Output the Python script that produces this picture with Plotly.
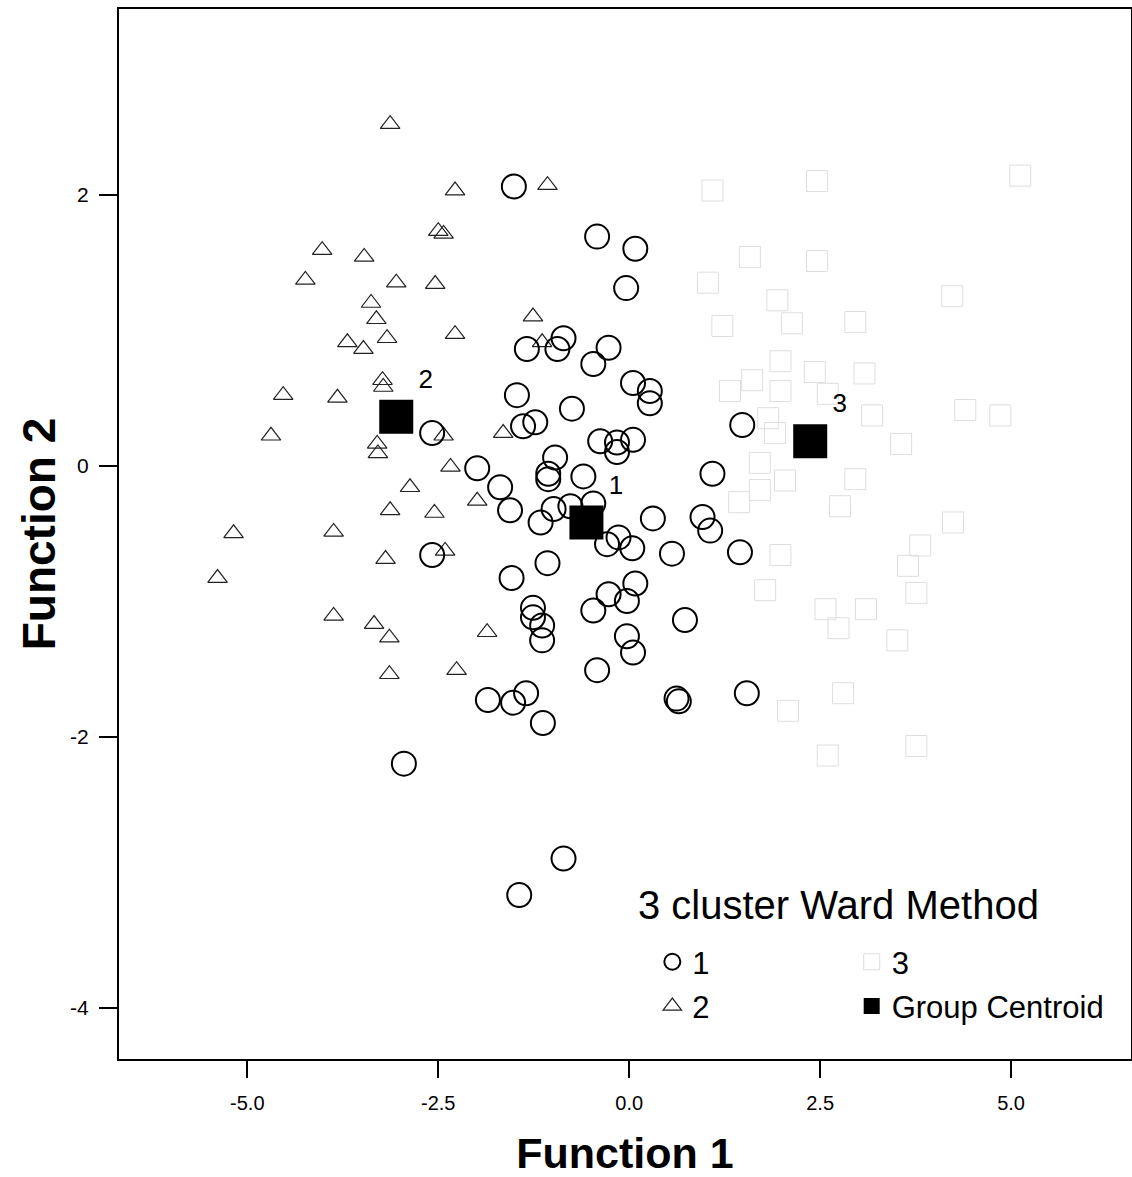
import plotly.graph_objects as go

# ---- data ----
c1_x = [-1.51, -0.42, 0.08, -0.04, -0.86, -1.34, -0.94, -0.27, -0.47, 0.05, 0.27, 0.27,
        -1.47, -0.75, -1.39, -1.23, 1.48, -2.58, -0.38, 0.05, -0.16, -0.16, -0.97, -1.99,
        -1.06, -1.06, -0.60, 1.09, -1.69, -1.56, -0.99, -0.77, -0.47, -1.16, 0.31, 0.96,
        1.06, -0.29, -0.14, 0.04, 0.56, 1.45, -2.58, -1.07, -1.54, 0.08, -0.27, -0.03,
        -0.47, -1.26, -1.26, -1.14, -1.14, 0.73, -0.03, 0.05, -0.42, -1.85, -1.52, -1.35,
        0.62, 0.65, 1.54, -1.13, -2.95, -0.86, -1.44]
c1_y = [2.06, 1.69, 1.60, 1.31, 0.94, 0.86, 0.86, 0.87, 0.75, 0.61, 0.55, 0.46,
        0.52, 0.42, 0.29, 0.32, 0.30, 0.24, 0.18, 0.19, 0.17, 0.10, 0.06, -0.02,
        -0.06, -0.10, -0.08, -0.06, -0.16, -0.33, -0.32, -0.30, -0.28, -0.42, -0.39, -0.38,
        -0.48, -0.58, -0.53, -0.61, -0.65, -0.64, -0.66, -0.72, -0.83, -0.87, -0.95, -1.00,
        -1.07, -1.05, -1.12, -1.18, -1.29, -1.14, -1.26, -1.38, -1.51, -1.73, -1.75, -1.68,
        -1.72, -1.74, -1.68, -1.90, -2.20, -2.90, -3.17]

c2_x = [-3.13, -2.28, -1.07, -2.50, -2.43, -4.02, -4.24, -3.47, -3.05, -2.54, -3.38, -3.31,
        -3.17, -3.69, -3.48, -2.28, -1.26, -1.14, -3.23, -3.22, -4.53, -3.82, -4.69, -3.30,
        -3.29, -2.43, -1.65, -2.34, -2.87, -1.99, -3.13, -2.55, -5.18, -3.87, -5.39, -3.19,
        -2.41, -3.87, -3.34, -3.14, -1.86, -3.14, -2.26]
c2_y = [2.52, 2.03, 2.07, 1.73, 1.71, 1.59, 1.37, 1.54, 1.35, 1.34, 1.20, 1.08,
        0.94, 0.91, 0.86, 0.97, 1.10, 0.91, 0.63, 0.58, 0.52, 0.50, 0.22, 0.16,
        0.09, 0.22, 0.24, -0.01, -0.16, -0.26, -0.33, -0.35, -0.50, -0.49, -0.83, -0.69,
        -0.63, -1.11, -1.17, -1.27, -1.23, -1.54, -1.51]

c3_x = [2.46, 5.12, 1.09, 1.58, 2.46, 1.03, 4.23, 1.94, 2.13, 2.96, 1.22, 1.98,
        2.43, 3.08, 1.61, 1.98, 1.32, 2.60, 1.82, 3.18, 4.40, 4.86, 1.91, 3.56,
        1.71, 2.96, 2.04, 1.71, 1.44, 2.76, 4.24, 3.81, 3.65, 1.98, 1.78, 3.76,
        2.57, 3.10, 2.74, 3.51, 2.80, 2.08, 2.60, 3.76]
c3_y = [2.10, 2.14, 2.03, 1.54, 1.51, 1.35, 1.25, 1.22, 1.05, 1.06, 1.03, 0.77,
        0.69, 0.68, 0.63, 0.55, 0.55, 0.53, 0.35, 0.37, 0.41, 0.37, 0.24, 0.16,
        0.02, -0.10, -0.11, -0.18, -0.27, -0.30, -0.42, -0.59, -0.74, -0.66, -0.92, -0.94,
        -1.06, -1.06, -1.20, -1.29, -1.68, -1.81, -2.14, -2.07]

centroid_x = [-0.56, -3.05, 2.37]
centroid_y = [-0.42, 0.36, 0.18]
centroid_labels = ["1", "2", "3"]

legend_title = "3 cluster Ward Method"
x_ticks = [-5.0, -2.5, 0.0, 2.5, 5.0]
y_ticks = [-4, -2, 0, 2]

FONT = "Liberation Sans, Arial, Helvetica, sans-serif"
FAINT = "#dedede"

fig = go.Figure()

fig.add_trace(go.Scatter(
    x=c3_x, y=c3_y, mode="markers", name="3", legend="legend2", legendrank=1,
    legendgroup="g3",
    marker=dict(symbol="square-open", size=21, color=FAINT, line=dict(width=1, color=FAINT)),
))
fig.add_trace(go.Scatter(
    x=c2_x, y=c2_y, mode="markers", name="2", legend="legend", legendrank=2,
    legendgroup="g2",
    marker=dict(symbol="triangle-up-open", size=17, color="#222222", line=dict(width=1.2, color="#222222")),
))
fig.add_trace(go.Scatter(
    x=c1_x, y=c1_y, mode="markers", name="1", legend="legend", legendrank=1,
    legendgroup="g1",
    marker=dict(symbol="circle-open", size=24, color="#000000", line=dict(width=2, color="#000000")),
))
fig.add_trace(go.Scatter(
    x=centroid_x, y=centroid_y, mode="markers+text", name="Group Centroid",
    legend="legend2", legendrank=2, legendgroup="gc",
    text=centroid_labels, textposition="top right",
    textfont=dict(family=FONT, size=26, color="#000000"),
    marker=dict(symbol="square", size=34, color="#000000"),
))

fig.add_annotation(
    x=0.511, y=0.1467, xref="paper", yref="paper", xanchor="left", yanchor="middle",
    text=legend_title, showarrow=False, font=dict(family=FONT, size=40, color="#000000"),
)

legend_common = dict(
    yanchor="top", xanchor="left", orientation="v",
    font=dict(family=FONT, size=31, color="#000000"),
    bgcolor="rgba(0,0,0,0)", borderwidth=0, tracegroupgap=1,
)

fig.update_layout(
    width=1132, height=1177,
    margin=dict(l=119, r=1, t=9, b=118),
    paper_bgcolor="white", plot_bgcolor="white",
    font=dict(family=FONT, color="#000000"),
    legend=dict(x=0.527, y=0.118, **legend_common),
    legend2=dict(x=0.724, y=0.118, **legend_common),
    showlegend=True,
)

fig.update_xaxes(
    range=[-6.68, 6.57], tickvals=x_ticks, ticktext=[f"{v:.1f}" for v in x_ticks],
    showgrid=False, zeroline=False,
    showline=True, linecolor="#000000", linewidth=2, mirror=True,
    ticks="outside", ticklen=17, tickwidth=2, tickcolor="#000000",
    ticklabelstandoff=8,
    tickfont=dict(family=FONT, size=20, color="#000000"),
    title=dict(text="<b>Function 1</b>", font=dict(family=FONT, size=43, color="#000000"), standoff=40),
    automargin=False,
)
fig.update_yaxes(
    range=[-4.38, 3.37], tickvals=y_ticks, ticktext=[str(v) for v in y_ticks],
    showgrid=False, zeroline=False,
    showline=True, linecolor="#000000", linewidth=2, mirror=True,
    ticks="outside", ticklen=18, tickwidth=2, tickcolor="#000000",
    ticklabelstandoff=6,
    tickfont=dict(family=FONT, size=21, color="#000000"),
    title=dict(text="<b>Function 2</b>", font=dict(family=FONT, size=46, color="#000000"), standoff=0),
    automargin=False,
)

fig.write_html("out.html", config={"displayModeBar": False},
               post_script="document.body.style.margin='0';")
